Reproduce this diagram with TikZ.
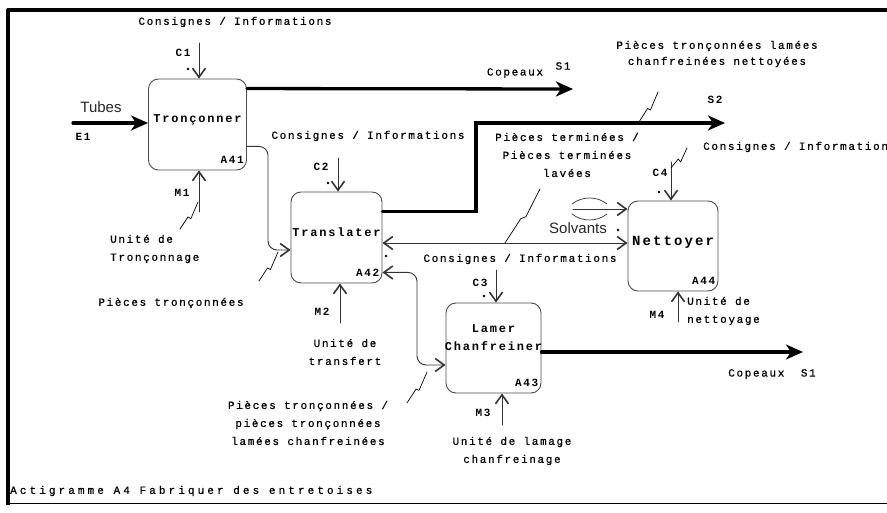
\documentclass[tikz,border=0pt]{standalone}
\usepackage{fontspec}
\usetikzlibrary{arrows.meta, calc}
\newfontfamily\monof[LetterSpace=15]{Liberation Mono}
\newfontfamily\textf[LetterSpace=15, FakeBold=0.6]{Liberation Mono}
\newfontfamily\capf[LetterSpace=28, FakeBold=0.6]{Liberation Mono}
\newfontfamily\sansf{Liberation Sans}
% zigzag tag linking a label to its arrow
\newcommand{\zig}[2]{\draw[zz] (#1) -- ($(#1)!0.45!(#2)$) -- ($(#1)!0.6!(#2)+(0,6)$) -- (#2);}

\begin{document}
\begin{tikzpicture}[
  x=1pt, y=-1pt, line cap=round, line join=round,
  box/.style={draw=black!70, line width=0.9pt, rounded corners=10pt,
              minimum width=91pt, minimum height=91pt, inner sep=0pt},
  bname/.style={font=\monof\bfseries\fontsize{12}{18}\selectfont, align=center, inner sep=0pt},
  cd/.style={font=\monof\bfseries\fontsize{11}{13}\selectfont, inner sep=0pt},
  txt/.style={font=\textf\fontsize{11}{18}\selectfont, align=center, inner sep=0pt},
  sl/.style={font=\sansf\fontsize{15}{18}\selectfont, text=black!85, inner sep=0pt},
  ln/.style={draw=black!80, line width=0.9pt},
  fl/.style={-{Straight Barb[length=9pt, width=13pt, line width=1.6pt]}},
  bi/.style={{Straight Barb[length=9pt, width=13pt, line width=1.6pt]}-{Straight Barb[length=9pt, width=13pt, line width=1.6pt]}},
  thk/.style={draw=black, line width=3.3pt, -{Stealth[length=17pt, width=15pt, inset=5pt]}},
  zz/.style={draw=black, line width=0.7pt},
]
\useasboundingbox (0,0) rectangle (887,513);

% frame
\draw[line width=4pt, line cap=butt] (887,10) -- (8,10) -- (8,505);
\draw[line width=1.5pt, line cap=butt] (8,503.5) -- (887,503.5);

% activities
\node[box, minimum width=98pt] (a41) at (197.5,124.5) {};
\node[bname] (a41t) at ([yshift=5pt]a41.center) {Tronçonner};
\node[cd, anchor=south east] (a41c) at ([shift={(-3pt,7pt)}]a41.south east) {A41};

\node[box] (a42) at (336.5,237.5) {};
\node[bname] (a42t) at ([yshift=5pt]a42.center) {Translater};
\node[cd, anchor=south east] (a42c) at ([shift={(-3pt,7pt)}]a42.south east) {A42};

\node[box, minimum width=95pt, minimum height=90pt] (a43) at (493.5,348) {};
\node[bname] (a43t) at ([yshift=10pt]a43.center) {Lamer\\Chanfreiner};
\node[cd, anchor=south east] (a43c) at ([shift={(-3pt,7pt)}]a43.south east) {A43};

\node[box, minimum width=90pt, minimum height=90pt] (a44) at (673,246) {};
\node[bname, font=\monof\bfseries\fontsize{14}{18}\selectfont] (a44t) at ([yshift=4pt]a44.center) {Nettoyer};
\node[cd, anchor=south east] (a44c) at ([shift={(-3pt,7pt)}]a44.south east) {A44};

% inputs / outputs
\coordinate (e1) at (73,123);
\draw[thk] (e1) -- (e1 -| a41.west);
\node[sl] (tubes) at (101,107) {Tubes};
\node[cd] (e1l) at (83,137) {E1};

\coordinate (s1a) at ($(a41.north east)+(0,10)$);
\coordinate (s1b) at (573,89);
\draw[thk] (s1a) -- (s1b);
\node[txt] (cop1) at (515,73) {Copeaux};
\node[txt] (s1l) at (563,66) {S1};

\coordinate (s2a) at ($(a42.north east)+(0,20)$);
\coordinate (s2k) at (476,123);
\coordinate (s2b) at (725,123);
\draw[thk, line join=miter] (s2a) -| (s2k) -- (s2b);
\node[cd] (s2l) at (715,100) {S2};
\node[txt, font=\textf\fontsize{11}{16}\selectfont] (ptl) at (717,54) {Pièces tronçonnées lamées\\chanfreinées nettoyées};
\zig{639,122}{658,92}

\coordinate (s3a) at ($(a43.east)+(0,4)$);
\coordinate (s3b) at (803,352);
\draw[thk] (s3a) -- (s3b);
\node[txt] (cop2) at (772,374) {Copeaux\ \ S1};

\coordinate (q1) at ($(a41.south east)+(0,-24)$);
\coordinate (q2) at (268,250);
\draw[ln, fl, rounded corners=9pt] (q1) -| (q2) -- (q2 -| a42.west);
\node[txt] (pt1) at (171,303) {Pièces tronçonnées};
\zig{259,281}{278,252}

\coordinate (bd) at (500,243);
\draw[ln, bi] (bd -| a42.east) -- (bd -| a44.west);
\node[txt] (ptm) at (567,155) {Pièces terminées /\\Pièces terminées\\lavées};
\zig{505,243}{540,189}

\coordinate (sv) at (573,209);
\draw[ln, fl] (sv) -- (sv -| a44.west);
\draw[ln, line width=0.7pt] (572,204) .. controls (582,196) and (597,196) .. (607,204);
\draw[ln, line width=0.7pt] (572,214) .. controls (582,222) and (597,222) .. (607,214);
\node[sl] (solv) at (578,228) {Solvants};

\coordinate (r1) at ($(a42.south east)+(0,-11)$);
\coordinate (r2) at (417,365);
\draw[ln, bi, rounded corners=9pt] (r1) -| (r2) -- (r2 -| a43.west);
\node[txt] (pt3) at (308,423) {Pièces tronçonnées /\\pièces tronçonnées\\lamées chanfreinées};
\zig{407,403}{427,372}

% controls
\coordinate (c1) at (199,43);
\draw[ln, fl] (c1) -- (c1 |- a41.north);
\node[txt] (ci1) at (235,22) {Consignes / Informations};
\node[cd] (c1l) at (183,53) {C1};

\coordinate (c2) at (338,158);
\draw[ln, fl] (c2) -- (c2 |- a42.north);
\node[txt] (ci2) at (368,136) {Consignes / Informations};
\node[cd] (c2l) at (321,167) {C2};

\coordinate (c3) at (496,270);
\draw[ln, fl] (c3) -- (c3 |- a43.north);
\node[txt] (ci3) at (520,259) {Consignes / Informations};
\node[cd] (c3l) at (480,283) {C3};

\coordinate (c4) at (671,162);
\draw[ln, fl] (c4) -- (c4 |- a44.north);
\node[txt, anchor=west] (ci4) at (703,147) {Consignes / Information};
\node[cd] (c4l) at (660,173) {C4};
\zig{671,168}{687,148}

% mechanisms
\coordinate (m1) at (199,212);
\draw[ln, fl] (m1) -- (m1 |- a41.south);
\node[cd] (m1l) at (182,193) {M1};
\node[txt, align=left, anchor=west] (um1) at (110,249) {Unité de\\Tronçonnage};
\zig{180,229}{198,202}

\coordinate (m2) at (340,323);
\draw[ln, fl] (m2) -- (m2 |- a42.south);
\node[cd] (m2l) at (322,312) {M2};
\node[txt] (um2) at (345,352) {Unité de\\transfert};

\coordinate (m3) at (502,425);
\draw[ln, fl] (m3) -- (m3 |- a43.south);
\node[cd] (m3l) at (483,413) {M3};
\node[txt] (um3) at (512,451) {Unité de lamage\\chanfreinage};

\coordinate (m4) at (678,322);
\draw[ln, fl] (m4) -- (m4 |- a44.south);
\node[cd] (m4l) at (657,315) {M4};
\node[txt, align=left, anchor=west] (um4) at (687,311) {Unité de\\nettoyage};

% tunnel dots
\foreach \p in {(188,69), (328,183), (386,256), (484,296), (618,230), (659,192)}
  \fill \p circle (1.3pt);

\node[font=\capf\fontsize{11}{13}\selectfont, inner sep=0pt, anchor=west] (cap) at (10,491) {Actigramme A4 Fabriquer des entretoises};
\end{tikzpicture}
\end{document}
